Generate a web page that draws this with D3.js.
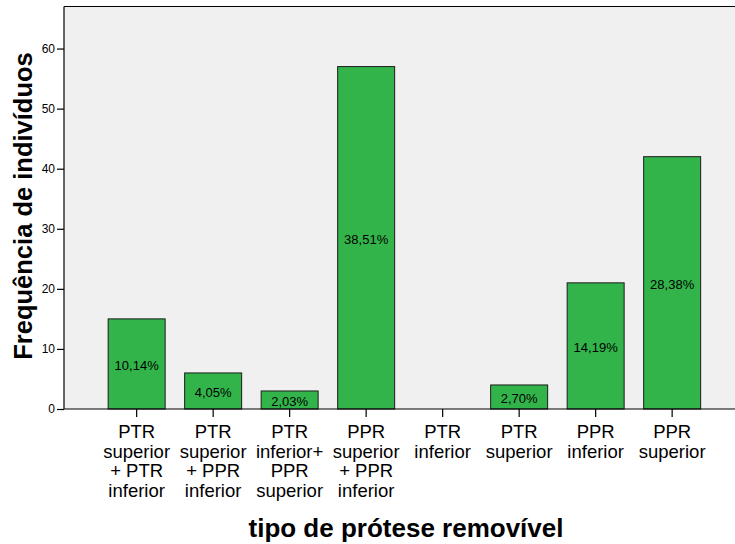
<!DOCTYPE html>
<html>
<head>
<meta charset="utf-8">
<script src="https://cdn.jsdelivr.net/npm/d3@7"></script>
<style>
  html, body { margin: 0; padding: 0; background: #ffffff; }
  svg { display: block; }
  text { font-family: Arial, "Liberation Sans", sans-serif; }
</style>
</head>
<body>
<svg id="chart" width="735" height="544"></svg>
<script>
const categories = [
  ["PTR", "superior", "+ PTR", "inferior"],
  ["PTR", "superior", "+ PPR", "inferior"],
  ["PTR", "inferior+", "PPR", "superior"],
  ["PPR", "superior", "+ PPR", "inferior"],
  ["PTR", "inferior"],
  ["PTR", "superior"],
  ["PPR", "inferior"],
  ["PPR", "superior"]
];
const counts = [15, 6, 3, 57, 0, 4, 21, 42];
const percentLabels = ["10,14%", "4,05%", "2,03%", "38,51%", "", "2,70%", "14,19%", "28,38%"];
const yTicks = [0, 10, 20, 30, 40, 50, 60];
const yTitle = "Frequência de indivíduos";
const xTitle = "tipo de prótese removível";

const svg = d3.select("#chart");
const plot = { left: 64, top: 6.5, right: 735, bottom: 409 };

const ids = d3.range(categories.length);
const x = d3.scaleBand()
  .domain(ids)
  .range([98.4, 710.4])
  .paddingInner(0.255)
  .paddingOuter(0.1275);

const y = d3.scaleLinear()
  .domain([0, 67])
  .range([plot.bottom, plot.top]);

// plot background
svg.append("rect")
  .attr("x", plot.left).attr("y", plot.top)
  .attr("width", plot.right - plot.left)
  .attr("height", plot.bottom - plot.top)
  .attr("fill", "#f0f0f0");

// top border
svg.append("line")
  .attr("x1", plot.left).attr("x2", plot.right)
  .attr("y1", plot.top).attr("y2", plot.top)
  .attr("stroke", "#000").attr("stroke-width", 1.2);

// bars
svg.append("g").selectAll("rect")
  .data(ids.filter(i => counts[i] > 0))
  .join("rect")
  .attr("x", i => x(i))
  .attr("y", i => y(counts[i]))
  .attr("width", x.bandwidth())
  .attr("height", i => y(0) - y(counts[i]))
  .attr("fill", "#32b44a")
  .attr("stroke", "#1c1c1c")
  .attr("stroke-width", 1);

// percent labels
svg.append("g").selectAll("text")
  .data(ids.filter(i => percentLabels[i] !== ""))
  .join("text")
  .attr("x", i => x(i) + x.bandwidth() / 2)
  .attr("y", i => (y(counts[i]) + y(0)) / 2 + 1.5)
  .attr("text-anchor", "middle")
  .attr("dominant-baseline", "central")
  .attr("font-size", 13)
  .attr("fill", "#000")
  .text(i => percentLabels[i]);

// y axis
const yAxis = d3.axisLeft(y).tickValues(yTicks).tickSize(7).tickPadding(2).tickFormat(d3.format("d"));
const gy = svg.append("g")
  .attr("transform", `translate(${plot.left},0)`)
  .call(yAxis);
gy.select(".domain").attr("d", `M0,${plot.top}V${plot.bottom}`).attr("stroke", "#000").attr("stroke-width", 1.2);
gy.selectAll(".tick line").attr("stroke", "#000").attr("stroke-width", 1.2);
gy.selectAll(".tick text").attr("font-size", 12).attr("font-family", "Arial, 'Liberation Sans', sans-serif").attr("fill", "#000");

// x axis
const xAxis = d3.axisBottom(x).tickSize(8).tickFormat(() => "");
const gx = svg.append("g")
  .attr("transform", `translate(0,${plot.bottom})`)
  .call(xAxis);
gx.select(".domain").attr("d", `M${plot.left},0H${plot.right}`).attr("stroke", "#000").attr("stroke-width", 1.2);
gx.selectAll(".tick line").attr("stroke", "#000").attr("stroke-width", 1.2);
gx.selectAll(".tick text").remove();

// category labels (multi-line)
const labelG = svg.append("g");
ids.forEach(i => {
  const t = labelG.append("text")
    .attr("x", x(i) + x.bandwidth() / 2)
    .attr("y", 438)
    .attr("text-anchor", "middle")
    .attr("font-size", 18.5)
    .attr("fill", "#000");
  categories[i].forEach((line, k) => {
    t.append("tspan")
      .attr("x", x(i) + x.bandwidth() / 2)
      .attr("y", 438 + k * 19.7)
      .text(line);
  });
});

// axis titles
svg.append("text")
  .attr("transform", `translate(32,206) rotate(-90)`)
  .attr("text-anchor", "middle")
  .attr("font-size", 25.5)
  .attr("font-weight", "bold")
  .attr("fill", "#000")
  .text(yTitle);

svg.append("text")
  .attr("x", 406)
  .attr("y", 537)
  .attr("text-anchor", "middle")
  .attr("font-size", 26)
  .attr("font-weight", "bold")
  .attr("fill", "#000")
  .text(xTitle);
</script>
</body>
</html>
